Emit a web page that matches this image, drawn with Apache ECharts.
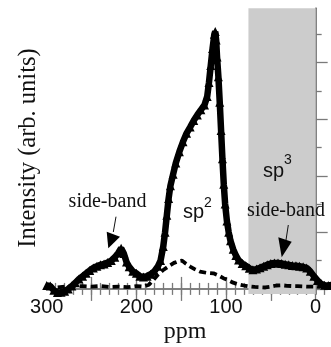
<!DOCTYPE html>
<html>
<head>
<meta charset="utf-8">
<script src="https://cdn.jsdelivr.net/npm/echarts@6/dist/echarts.min.js"></script>
<style>
html,body{margin:0;padding:0;background:#fff;}
#c{width:331px;height:347px;}
</style>
</head>
<body>
<div id="c"></div>
<script>
// ---- data (ppm, intensity in arb. units) ----
const mainPpm = [300,296,292,288,284,280,276,272,268,264,260,256,252,248,244,240,236,232,228,224,220,217,214,211,208,204,200,196,192,188,184,180,176,173,170,168,166,164,162,159,156,152,148,144,140,136,132,128,124,121,119,117,115,113,112,111,110,108.5,107,105.5,104,102.5,101,99,97,95,92,89,86,82,78,74,70,66,62,58,54,50,46,42,38,34,30,26,22,18,14,10,6,2,-2,-6,-10,-14,-18];
const mainInt = [0.12,0.1,-0.05,-0.13,-0.12,-0.08,0.0,0.1,0.22,0.35,0.45,0.55,0.65,0.74,0.8,0.85,0.88,0.93,1.0,1.12,1.28,1.44,1.25,0.95,0.78,0.62,0.55,0.45,0.42,0.45,0.52,0.62,0.8,1.0,1.5,2.0,2.6,3.2,3.65,4.05,4.45,4.85,5.2,5.5,5.72,5.95,6.15,6.33,6.5,6.8,7.3,7.9,8.5,9.0,9.1,8.8,8.2,7.5,6.6,5.6,4.6,3.7,3.0,2.4,2.0,1.7,1.4,1.18,1.02,0.9,0.82,0.73,0.68,0.7,0.75,0.8,0.85,0.9,0.92,0.92,0.9,0.87,0.85,0.83,0.82,0.8,0.78,0.74,0.62,0.45,0.3,0.18,0.13,0.12,0.14];
const dashPpm = [300,290,280,270,260,250,240,230,220,210,200,192,186,181,176,170,164,158,153,149,145,140,135,129,122,114,108,103,97,92,86,80,74,68,62,56,50,44,38,32,26,20,14,8,2,-5];
const dashInt = [0.06,0.05,0.08,0.1,0.1,0.08,0.1,0.07,0.08,0.06,0.1,0.08,0.15,0.32,0.5,0.67,0.8,0.92,0.98,1.0,0.9,0.79,0.7,0.61,0.57,0.55,0.47,0.38,0.3,0.22,0.16,0.12,0.09,0.07,0.06,0.05,0.08,0.12,0.13,0.11,0.1,0.1,0.09,0.08,0.08,0.08];
const shadeRange = [75, 0];
const xMinorTicks = [-10,0,10,20,30,40,50,60,70,80,90,100,110,120,130,140,150,160,170,180,190,200,210,220,230,240,250,260,270,280,290];
const xMajorTicks = [0,50,100,150,200,250];
const xTickLabels = [0,100,200,300];
const yMinorTicks = [1,3,5,7,9];
const yMajorTicks = [0,2,4,6,8];

const chart = echarts.init(document.getElementById('c'), null, {renderer:'canvas'});
const axisCol = '#7a7a7a';
const zip = (a,b) => a.map((v,i)=>[v,b[i]]);

function xAx(pos, ticks, len, withLine, labels) {
  return {
    type:'value', position:pos, min:-20, max:300, inverse:true,
    axisLine:{show:withLine, lineStyle:{color:axisCol, width:1.5}},
    axisTick:{show:true, inside:true, length:len, customValues:ticks, lineStyle:{color:axisCol, width:1.3}},
    axisLabel: labels ? {show:true, customValues:labels, margin:3, color:'#111', fontFamily:'Liberation Sans', fontSize:20} : {show:false},
    splitLine:{show:false}
  };
}
function yAx(pos, ticks, len, withLine) {
  return {
    type:'value', position:pos, min:-0.18, max:9.92,
    axisLine:{show:withLine, lineStyle:{color:axisCol, width:1.5}},
    axisTick:{show:true, inside:true, length:len, customValues:ticks, lineStyle:{color:axisCol, width:1.3}},
    axisLabel:{show:false},
    splitLine:{show:false}
  };
}

const txt = (x, y, text, fam, size, align, extra) => Object.assign({
  type:'text', z:100, x:x, y:y,
  style:{text:text, fontFamily:fam, fontSize:size, fill:'#111', align:align, verticalAlign:'middle'}
}, extra || {});

const option = {
  animation:false,
  backgroundColor:'#fff',
  grid:{left:46.7, width:286.9, top:8.3, bottom:53, containLabel:false, outerBoundsMode:'none'},
  xAxis:[
    xAx('bottom', xMinorTicks, 6, true, xTickLabels),
    xAx('bottom', xMajorTicks, 12, false, null),
    xAx('top', xMinorTicks, 6, true, null),
    xAx('top', xMajorTicks, 12, false, null)
  ],
  yAxis:[
    yAx('left', yMinorTicks, 6, true),
    yAx('left', yMajorTicks, 12, false),
    yAx('right', yMinorTicks, 6, true),
    yAx('right', yMajorTicks, 12, false)
  ],
  series:[
    {
      type:'line', z:1, data:[[shadeRange[0],0]], symbol:'none', lineStyle:{width:0},
      markArea:{silent:true, itemStyle:{color:'#cccccc'}, data:[[{xAxis:shadeRange[0]},{xAxis:shadeRange[1]}]]}
    },
    {
      type:'line', z:3, data:zip(dashPpm, dashInt), symbol:'none', smooth:false,
      lineStyle:{color:'#000', width:3.8, type:[7,4]}
    },
    {
      type:'line', z:4, data:zip(mainPpm, mainInt), symbol:'triangle', symbolSize:9, showAllSymbol:true,
      itemStyle:{color:'#000'}, lineStyle:{color:'#000', width:6.5}
    }
  ],
  graphic:[
    txt(29, 148, 'Intensity (arb. units)', 'Liberation Serif', 24.5, 'center', {rotation:Math.PI/2}),
    txt(185, 332, 'ppm', 'Liberation Serif', 24, 'center'),
    txt(107.5, 202, 'side-band', 'Liberation Serif', 20, 'center'),
    txt(286, 211, 'side-band', 'Liberation Serif', 20, 'center'),
    txt(183, 212, 'sp', 'Liberation Sans', 20, 'left'),
    txt(204, 203, '2', 'Liberation Sans', 14, 'left'),
    txt(263, 171, 'sp', 'Liberation Sans', 20, 'left'),
    txt(284, 160, '3', 'Liberation Sans', 14, 'left'),
    {type:'line', z:100, shape:{x1:116,y1:216.7,x2:113.3,y2:232}, style:{stroke:'#111', lineWidth:1}},
    {type:'polygon', z:100, shape:{points:[[106.7,231.7],[120,236.7],[108.3,248.3]]}, style:{fill:'#000'}},
    {type:'line', z:100, shape:{x1:288.3,y1:225,x2:286,y2:240}, style:{stroke:'#111', lineWidth:1}},
    {type:'polygon', z:100, shape:{points:[[278.3,237.3],[291.7,241.7],[281.7,257.3]]}, style:{fill:'#000'}}
  ]
};
chart.setOption(option);
</script>
</body>
</html>
